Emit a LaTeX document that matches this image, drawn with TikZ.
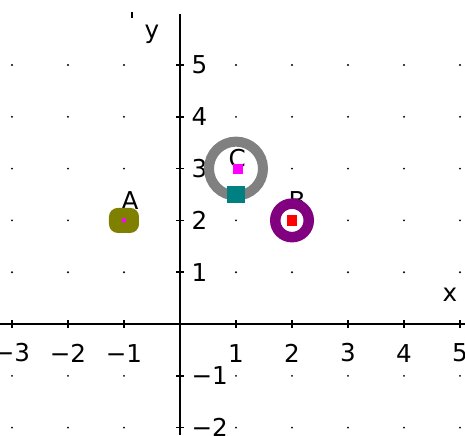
\documentclass[tikz,border=0pt]{standalone}
\usepackage{fontspec}
\setmainfont{DejaVu Sans}
\usetikzlibrary{positioning}
\definecolor{ptOlive}{RGB}{128,128,0}
\definecolor{ptGray}{RGB}{128,128,128}
\definecolor{ptTeal}{RGB}{0,128,128}
\definecolor{ptPurple}{RGB}{128,0,128}
\definecolor{ptMagenta}{RGB}{255,0,255}
\definecolor{ptRed}{RGB}{255,0,0}
\tikzset{
  axisline/.style={line width=1.1pt},
  ticklabel/.style={inner sep=0pt, font=\fontsize{14}{16}\selectfont},
  ptlabel/.style={inner sep=0pt, font=\fontsize{14}{16}\selectfont},
}

\begin{document}
\begin{tikzpicture}[x=1.12cm, y=1.036cm]
    \useasboundingbox (-3.214,-2.143) rectangle (5.089,6.255);
    % grid dots
    \foreach \i in {-3,...,5}
      \foreach \j in {-2,...,5}
        \fill (\i,\j) circle[radius=0.6pt];
    % axes
    \coordinate (xmin) at (-3.214,0);
    \coordinate (xmax) at (5.089,0);
    \coordinate (ymin) at (0,-2.143);
    \coordinate (ymax) at (0,5.98);
    \draw[axisline] (xmin) -- (xmax);
    \draw[axisline] (ymin) -- (ymax);
    \node[ticklabel] (xlab) at (4.82,0.56) {x};
    \node[ticklabel] (ylab) at (-0.5,5.6) {y};
    \draw[line width=1pt] (-0.857,5.91) -- (-0.857,6.03);
    % ticks and numbers
    \foreach \i/\t in {-3/−3,-2/−2,-1/−1,1/1,2/2,3/3,4/4,5/5} {
      \draw[line width=0.9pt] (\i,0) ++(0,-2.3pt) -- ++(0,4.6pt);
      \node[ticklabel] (xt\i) at (\i,-0.56) {\t};
    }
    \foreach \j/\t in {-2/−2,-1/−1,1/1,2/2,3/3,4/4,5/5} {
      \draw[line width=0.9pt] (0,\j) ++(-2.3pt,0) -- ++(4.6pt,0);
      \node[ticklabel, anchor=west] (yt\j) at (0.2,\j) {\t};
    }
    % white insides of the rings
    \fill[white] (1,3) circle[radius=0.54cm];
    \fill[white] (2,2) circle[radius=0.335cm];
    % point labels (partly hidden by the markers)
    \node[ptlabel] (labA) at (-0.89,2.39) {A};
    \node[ptlabel] (labC) at (1.02,3.19) {C};
    \node[ptlabel] (labB) at (2.09,2.38) {B};
    % A: olive blob
    \node[fill=ptOlive, rounded corners=5pt, minimum width=0.6cm,
      minimum height=0.5cm, inner sep=0pt] (A) at (-1,2) {};
    \fill[ptMagenta] (A.center) circle[radius=1.3pt];
    % C: gray ring with teal square below
    \draw[ptGray, line width=0.2cm] (1,3) circle[radius=0.54cm];
    \node[fill=ptMagenta, minimum size=0.2cm, inner sep=0pt] (C) at (1.03,3) {};
    \node[fill=ptTeal, minimum width=0.36cm, minimum height=0.33cm,
      inner sep=0pt] (D) at (1,2.5) {};
    % B: purple ring with red square
    \draw[ptPurple, line width=0.21cm] (2,2) circle[radius=0.335cm];
    \node[fill=ptRed, minimum size=0.21cm, inner sep=0pt] (B) at (2,2) {};
\end{tikzpicture}
\end{document}
